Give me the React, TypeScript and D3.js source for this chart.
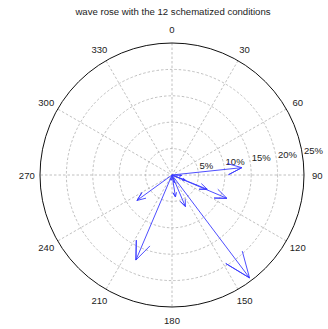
import React from "react";
import * as d3 from "d3";

const title = "wave rose with the 12 schematized conditions";
const directions = [84, 93, 111, 112, 113, 143, 157, 163, 171, 203, 234, 190];
const magnitudes = [13.3, 1.8, 2.7, 7.2, 11.3, 24.4, 6.5, 1.5, 4.2, 17.5, 8.2, 1.0];
const ringValues = [5, 10, 15, 20, 25];
const ringLabels = ["5%", "10%", "15%", "20%", "25%"];
const spokeAngles = [0, 30, 60, 90, 120, 150];
const angleLabels = ["0", "30", "60", "90", "120", "150", "180", "210", "240", "270", "300", "330"];

const W = 328, H = 329;
const cx = 172, cy = 175, R = 132;

export default function App() {
  const r = d3.scaleLinear().domain([0, 25]).range([0, R]);
  const a = d3.scaleLinear().domain([0, 360]).range([0, 2 * Math.PI]);
  // compass: 0 at top, clockwise
  const pt = (deg: number, rad: number): [number, number] => [
    cx + rad * Math.sin(a(deg)),
    cy - rad * Math.cos(a(deg)),
  ];
  const line = d3.line();

  return (
    <svg width={W} height={H} style={{ position: "absolute", left: 0, top: 0, background: "#fff" }}
      fontFamily="'Liberation Sans', Arial, sans-serif">
      <text x={173} y={14.5} fontSize={9.6} textAnchor="middle" fill="#222">{title}</text>
      {/* rings */}
      {ringValues.slice(0, -1).map((v) => (
        <circle key={v} cx={cx} cy={cy} r={r(v)} fill="none" stroke="#b0b0b0" strokeWidth={0.8} strokeDasharray="2.5,2" />
      ))}
      {/* spokes */}
      {spokeAngles.map((s) => {
        const p1 = pt(s, R), p2 = pt(s + 180, R);
        return <line key={s} x1={p1[0]} y1={p1[1]} x2={p2[0]} y2={p2[1]} stroke="#b0b0b0" strokeWidth={0.8} strokeDasharray="2.5,2" />;
      })}
      <circle cx={cx} cy={cy} r={r(25)} fill="none" stroke="#111" strokeWidth={1} />
      {/* angle labels */}
      {angleLabels.map((l, i) => {
        const p = pt(i * 30, R * 1.1);
        return <text key={l} x={p[0]} y={p[1]} fontSize={9.5} textAnchor="middle" dominantBaseline="central" fill="#222">{l}</text>;
      })}
      {/* ring labels */}
      {ringValues.map((v, i) => {
        const p = pt(82, r(v + 0.25));
        return <text key={v} x={p[0]} y={p[1] - 2.5} fontSize={9.5} textAnchor="start" fill="#222">{ringLabels[i]}</text>;
      })}
      {/* arrows */}
      {directions.map((d, i) => {
        const L = r(magnitudes[i]);
        const th = a(d);
        const ux = Math.sin(th), uy = -Math.cos(th);
        const px = -uy, py = ux;
        const P = (t: number, s: number): [number, number] => [cx + L * (t * ux + s * px), cy + L * (t * uy + s * py)];
        const pts: [number, number][] = [P(0, 0), P(1, 0), P(0.8, 0.08), P(1, 0), P(0.8, -0.08)];
        return <path key={i} d={line(pts) || ""} fill="none" stroke="#3a3aff" strokeWidth={0.9} />;
      })}
    </svg>
  );
}
